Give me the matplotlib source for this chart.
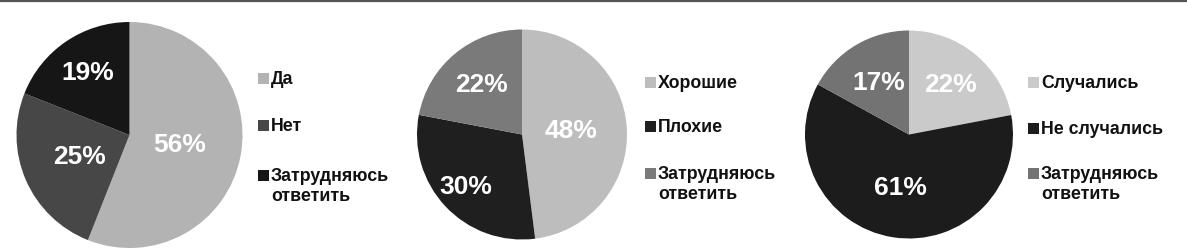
import matplotlib
matplotlib.use("Agg")
import matplotlib.pyplot as plt
from matplotlib.patches import Rectangle
from matplotlib import font_manager
import numpy as np

# Survey results: three questions, answer shares in percent
labels_1 = ["Да", "Нет", "Затрудняюсь\nответить"]
values_1 = [56, 25, 19]

labels_2 = ["Хорошие", "Плохие", "Затрудняюсь\nответить"]
values_2 = [48, 30, 22]

labels_3 = ["Случались", "Не случались", "Затрудняюсь\nответить"]
values_3 = [22, 61, 17]

colors_1 = ["#b3b3b3", "#474747", "#161616"]
colors_2 = ["#bdbdbd", "#1f1f1f", "#7a7a7a"]
colors_3 = ["#cacaca", "#1c1c1c", "#737373"]

W, H = 1187, 252
DPI = 100

# regular-width Liberation Sans Bold (avoid the Narrow variant)
bold_path = None
for f in font_manager.findSystemFonts():
    if f.endswith("LiberationSans-Bold.ttf"):
        bold_path = f
        break


def bold_font(size):
    if bold_path:
        return font_manager.FontProperties(fname=bold_path, size=size)
    return font_manager.FontProperties(family="DejaVu Sans", weight="bold",
                                       size=size)


fig = plt.figure(figsize=(W / DPI, H / DPI), dpi=DPI)
fig.patch.set_facecolor("white")

# thin rule along the top edge
fig.add_artist(plt.Line2D([0, 1], [1 - 1.2 / H, 1 - 1.2 / H], color="#555555",
                          lw=1.6, transform=fig.transFigure))

# layout per pie: centre (px), radius (px), radial fraction of each % label,
# legend marker left x (px), legend row y (px, top-down)
panels = [
    dict(labels=labels_1, values=values_1, colors=colors_1,
         cx=129.5, cy=135, r=113, frac=[0.45, 0.48, 0.66],
         lx=258, rows=[78, 125, 175]),
    dict(labels=labels_2, values=values_2, colors=colors_2,
         cx=522, cy=134.5, r=105, frac=[0.47, 0.73, 0.61],
         lx=645, rows=[82, 126, 173]),
    dict(labels=labels_3, values=values_3, colors=colors_3,
         cx=909, cy=134.5, r=104, frac=[0.62, 0.52, 0.58],
         lx=1028, rows=[82, 128, 173]),
]

for p in panels:
    cx, cy, r = p["cx"], p["cy"], p["r"]
    ax = fig.add_axes([(cx - r) / W, (H - cy - r) / H, 2 * r / W, 2 * r / H])
    wedges, _ = ax.pie(p["values"], colors=p["colors"], startangle=90,
                       counterclock=False, radius=1,
                       wedgeprops=dict(linewidth=0))
    ax.set_xlim(-1, 1)
    ax.set_ylim(-1, 1)
    ax.set_aspect("equal")
    ax.axis("off")
    for w, v, f in zip(wedges, p["values"], p["frac"]):
        mid = np.deg2rad((w.theta1 + w.theta2) / 2)
        ax.text(f * np.cos(mid), f * np.sin(mid), f"{v}%", color="white",
                fontproperties=bold_font(19), ha="center", va="center",
                clip_on=False)

    # legend drawn as square swatches with labels
    sq = 11
    for lab, col, y in zip(p["labels"], p["colors"], p["rows"]):
        fig.add_artist(Rectangle(((p["lx"]) / W, (H - y - sq / 2) / H),
                                 sq / W, sq / H, transform=fig.transFigure,
                                 facecolor=col, edgecolor="none"))
        fig.text((p["lx"] + sq + 2) / W, (H - y + 7) / H, lab,
                 fontproperties=bold_font(12.8), color="#111111",
                 ha="left", va="top", linespacing=1.2)

fig.savefig("out.png", dpi=DPI, facecolor="white")
